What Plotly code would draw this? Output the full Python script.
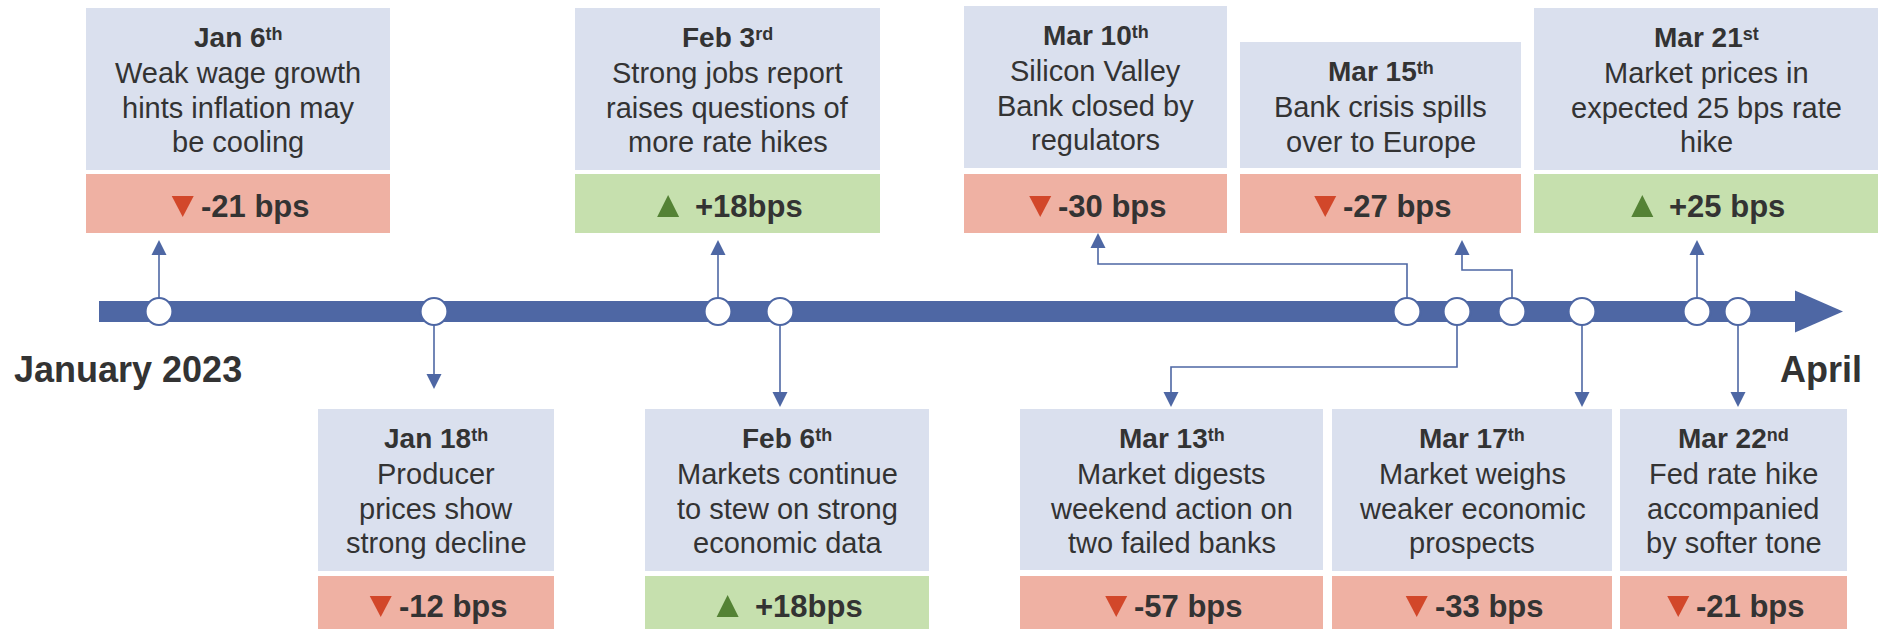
import plotly.graph_objects as go

# ---------------- data ----------------
event_dates = ["Jan 6", "Jan 18", "Feb 3", "Feb 6", "Mar 10",
               "Mar 13", "Mar 15", "Mar 17", "Mar 21", "Mar 22"]
date_suffix = ["th", "th", "rd", "th", "th", "th", "th", "th", "st", "nd"]
event_lines = [
    ["Weak wage growth", "hints inflation may", "be cooling"],
    ["Producer", "prices show", "strong decline"],
    ["Strong jobs report", "raises questions of", "more rate hikes"],
    ["Markets continue", "to stew on strong", "economic data"],
    ["Silicon Valley", "Bank closed by", "regulators"],
    ["Market digests", "weekend action on", "two failed banks"],
    ["Bank crisis spills", "over to Europe"],
    ["Market weighs", "weaker economic", "prospects"],
    ["Market prices in", "expected 25 bps rate", "hike"],
    ["Fed rate hike", "accompanied", "by softer tone"],
]
bps_change = [-21, -12, 18, 18, -30, -57, -27, -33, 25, -21]
bps_labels = ["-21 bps", "-12 bps", "+18bps", "+18bps", "-30 bps",
              "-57 bps", "-27 bps", "-33 bps", "+25 bps", "-21 bps"]
period_start = "January 2023"
period_end = "April"

# ---------------- layout (positions / styles) ----------------
W, H = 1885, 629
TL_Y = 311.5
BAR_HALF = 10.5
BAR_X0, HEAD_X0, TIP_X, HEAD_HALF = 99, 1795, 1843, 21
side = ["up", "down", "up", "down", "up", "down", "up", "down", "up", "down"]
marker_x = [159, 434, 718, 780, 1407, 1457, 1512, 1582, 1697, 1738]
box_x0 = [86, 318, 575, 645, 964, 1020, 1240, 1332, 1534, 1620]
box_x1 = [390, 554, 880, 929, 1227, 1323, 1521, 1612, 1878, 1847]
box_top = [8, 409, 8, 409, 6, 409, 42, 409, 8, 409]
box_bottom = [170, 571, 170, 571, 168, 570, 168, 571, 170, 571]
badge_y = {"up": (174, 233), "down": (576, 629)}
badge_base = {"up": 217, "down": 617}
arrow_x = [159, 434, 718, 780, 1098, 1171, 1462, 1582, 1697, 1738]
arrow_tip = [240, 389, 240, 407, 233, 407, 240, 407, 240, 407]
elbow_y = [None, None, None, None, 264, 367, 270, None, None, None]
HEAD_LEN, HEAD_W = 15, 15
TRI_W, TRI_H = 22, 21
GAP_DOWN, GAP_UP = 6, 15

BLUE = "#4E67A4"
BOX_BG = "#DAE0EE"
RED_BG = "#EFB1A3"
GREEN_BG = "#C6E0AE"
RED_TRI = "#D2472A"
GREEN_TRI = "#548235"
TEXT = "#333333"
FONT = "Liberation Sans, Arial, sans-serif"
DATE_SIZE, DESC_SIZE, BPS_SIZE, PERIOD_SIZE = 28, 29, 31, 36
SUP_SIZE, SUP_RAISE = 18, 7

# Arial/Liberation Sans bold advance widths (em) for badge label measurement
BOLD_W = {"-": 0.333, "+": 0.584, " ": 0.278, "b": 0.611, "p": 0.611, "s": 0.556}


def text_width(s, size):
    return sum(BOLD_W.get(c, 0.556) for c in s) * size


fig = go.Figure()
shapes = []
annotations = []

# timeline bar with arrow head
shapes.append(dict(type="rect", x0=BAR_X0, x1=HEAD_X0 + 5, y0=TL_Y - BAR_HALF,
                   y1=TL_Y + BAR_HALF, fillcolor=BLUE, line=dict(width=0), layer="below"))
shapes.append(dict(type="path",
                   path=f"M {HEAD_X0},{TL_Y - HEAD_HALF} L {TIP_X},{TL_Y} L {HEAD_X0},{TL_Y + HEAD_HALF} Z",
                   fillcolor=BLUE, line=dict(width=0), layer="below"))


def ann(x, y, text, size, xanchor="center"):
    annotations.append(dict(x=x, y=y, xref="x", yref="y", text=text, showarrow=False,
                            xanchor=xanchor, yanchor="middle",
                            font=dict(family=FONT, size=size, color=TEXT)))


for i in range(len(event_dates)):
    s = side[i]
    mx, ax, tip = marker_x[i], arrow_x[i], arrow_tip[i]
    base = tip + HEAD_LEN if s == "up" else tip - HEAD_LEN
    # connector
    if elbow_y[i] is not None:
        p = f"M {mx},{TL_Y} V {elbow_y[i]} H {ax} V {base}"
    else:
        p = f"M {mx},{TL_Y} V {base}"
    shapes.append(dict(type="path", path=p, line=dict(color=BLUE, width=1.6), layer="below"))
    shapes.append(dict(type="path",
                       path=f"M {ax - HEAD_W / 2},{base} L {ax + HEAD_W / 2},{base} L {ax},{tip} Z",
                       fillcolor=BLUE, line=dict(width=0), layer="below"))
    # description box
    x0, x1 = box_x0[i], box_x1[i]
    cx = (x0 + x1) / 2
    shapes.append(dict(type="rect", x0=x0, x1=x1, y0=box_top[i], y1=box_bottom[i],
                       fillcolor=BOX_BG, line=dict(width=0), layer="below"))
    by0, by1 = badge_y[s]
    up = bps_change[i] > 0
    shapes.append(dict(type="rect", x0=x0, x1=x1, y0=by0, y1=by1,
                       fillcolor=GREEN_BG if up else RED_BG, line=dict(width=0), layer="below"))
    # texts
    t = box_top[i]
    sup = (f"<span style='font-size:{SUP_SIZE}px;baseline-shift:{SUP_RAISE}px'>"
           f"{date_suffix[i]}</span>")
    ann(cx, t + 39 - 0.3465 * DATE_SIZE, f"<b>{event_dates[i]}{sup}</b>", DATE_SIZE)
    for k, line in enumerate(event_lines[i]):
        ann(cx, t + 75 + 34.6 * k - 0.3465 * DESC_SIZE, line, DESC_SIZE)
    # badge: triangle + label, centred as a group
    gap = GAP_UP if up else GAP_DOWN
    tw = text_width(bps_labels[i], BPS_SIZE)
    gx0 = cx + 2 - (TRI_W + gap + tw) / 2
    bb = badge_base[s]
    if up:
        tri = f"M {gx0},{bb} L {gx0 + TRI_W},{bb} L {gx0 + TRI_W / 2},{bb - TRI_H - 1} Z"
    else:
        tri = f"M {gx0},{bb - TRI_H} L {gx0 + TRI_W},{bb - TRI_H} L {gx0 + TRI_W / 2},{bb} Z"
    shapes.append(dict(type="path", path=tri, fillcolor=GREEN_TRI if up else RED_TRI,
                       line=dict(width=0), layer="above"))
    ann(gx0 + TRI_W + gap - 1, bb - 0.3465 * BPS_SIZE, f"<b>{bps_labels[i]}</b>", BPS_SIZE,
        xanchor="left")

# period labels
ann(12, 382 - 0.3465 * PERIOD_SIZE, f"<b>{period_start}</b>", PERIOD_SIZE, xanchor="left")
ann(1864, 382 - 0.3465 * PERIOD_SIZE, f"<b>{period_end}</b>", PERIOD_SIZE, xanchor="right")

# event markers on the timeline
fig.add_trace(go.Scatter(
    x=marker_x, y=[TL_Y] * len(marker_x), mode="markers",
    marker=dict(size=27, color="white", line=dict(color=BLUE, width=2.2)),
    hoverinfo="skip", showlegend=False))

fig.update_layout(
    width=W, height=H, margin=dict(l=0, r=0, t=0, b=0),
    paper_bgcolor="white", plot_bgcolor="white",
    xaxis=dict(range=[0, W], visible=False, fixedrange=True),
    yaxis=dict(range=[H, 0], visible=False, fixedrange=True),
    shapes=shapes, annotations=annotations, showlegend=False,
)

fig.write_html("out.html", config={"displayModeBar": False},
               post_script="document.body.style.margin='0';document.body.style.overflow='hidden';")
